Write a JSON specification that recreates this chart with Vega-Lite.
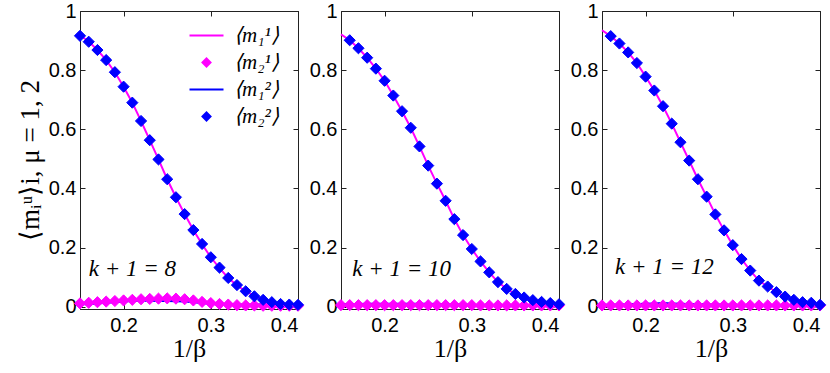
{
  "$schema": "https://vega.github.io/schema/vega-lite/v6.json",
  "padding": {"left": 15, "top": 0, "right": 0, "bottom": 2},
  "background": "white",
  "spacing": 43,
  "bounds": "flush",
  "datasets": {
    "curves": [
      {"p": 8, "x": 0.15, "m11": 0.918, "m21": 0.011, "m12": 0.007, "m22": 0.916},
      {"p": 8, "x": 0.16, "m11": 0.897, "m21": 0.013, "m12": 0.009, "m22": 0.896},
      {"p": 8, "x": 0.17, "m11": 0.868, "m21": 0.015, "m12": 0.011, "m22": 0.868},
      {"p": 8, "x": 0.18, "m11": 0.834, "m21": 0.017, "m12": 0.013, "m22": 0.834},
      {"p": 8, "x": 0.19, "m11": 0.793, "m21": 0.019, "m12": 0.015, "m22": 0.793},
      {"p": 8, "x": 0.20, "m11": 0.744, "m21": 0.021, "m12": 0.017, "m22": 0.744},
      {"p": 8, "x": 0.21, "m11": 0.690, "m21": 0.023, "m12": 0.019, "m22": 0.690},
      {"p": 8, "x": 0.22, "m11": 0.628, "m21": 0.025, "m12": 0.020, "m22": 0.628},
      {"p": 8, "x": 0.23, "m11": 0.563, "m21": 0.026, "m12": 0.020, "m22": 0.563},
      {"p": 8, "x": 0.24, "m11": 0.498, "m21": 0.027, "m12": 0.019, "m22": 0.498},
      {"p": 8, "x": 0.25, "m11": 0.431, "m21": 0.028, "m12": 0.019, "m22": 0.431},
      {"p": 8, "x": 0.26, "m11": 0.370, "m21": 0.027, "m12": 0.018, "m22": 0.370},
      {"p": 8, "x": 0.27, "m11": 0.313, "m21": 0.025, "m12": 0.017, "m22": 0.313},
      {"p": 8, "x": 0.28, "m11": 0.259, "m21": 0.021, "m12": 0.015, "m22": 0.259},
      {"p": 8, "x": 0.29, "m11": 0.211, "m21": 0.016, "m12": 0.012, "m22": 0.212},
      {"p": 8, "x": 0.30, "m11": 0.167, "m21": 0.012, "m12": 0.009, "m22": 0.167},
      {"p": 8, "x": 0.31, "m11": 0.130, "m21": 0.009, "m12": 0.008, "m22": 0.132},
      {"p": 8, "x": 0.32, "m11": 0.097, "m21": 0.007, "m12": 0.007, "m22": 0.097},
      {"p": 8, "x": 0.33, "m11": 0.072, "m21": 0.005, "m12": 0.007, "m22": 0.073},
      {"p": 8, "x": 0.34, "m11": 0.052, "m21": 0.004, "m12": 0.007, "m22": 0.052},
      {"p": 8, "x": 0.35, "m11": 0.036, "m21": 0.004, "m12": 0.007, "m22": 0.035},
      {"p": 8, "x": 0.36, "m11": 0.024, "m21": 0.003, "m12": 0.007, "m22": 0.023},
      {"p": 8, "x": 0.37, "m11": 0.016, "m21": 0.003, "m12": 0.007, "m22": 0.015},
      {"p": 8, "x": 0.38, "m11": 0.010, "m21": 0.003, "m12": 0.007, "m22": 0.009},
      {"p": 8, "x": 0.39, "m11": 0.007, "m21": 0.003, "m12": 0.007, "m22": 0.007},
      {"p": 8, "x": 0.40, "m11": 0.006, "m21": 0.003, "m12": 0.007, "m22": 0.006},

      {"p": 10, "x": 0.15, "m11": 0.921, "m21": 0.005, "m12": 0.008},
      {"p": 10, "x": 0.16, "m11": 0.901, "m21": 0.005, "m12": 0.009, "m22": 0.901},
      {"p": 10, "x": 0.17, "m11": 0.874, "m21": 0.005, "m12": 0.009, "m22": 0.874},
      {"p": 10, "x": 0.18, "m11": 0.842, "m21": 0.005, "m12": 0.010, "m22": 0.842},
      {"p": 10, "x": 0.19, "m11": 0.805, "m21": 0.005, "m12": 0.010, "m22": 0.805},
      {"p": 10, "x": 0.20, "m11": 0.764, "m21": 0.005, "m12": 0.010, "m22": 0.764},
      {"p": 10, "x": 0.21, "m11": 0.714, "m21": 0.005, "m12": 0.010, "m22": 0.714},
      {"p": 10, "x": 0.22, "m11": 0.661, "m21": 0.005, "m12": 0.010, "m22": 0.661},
      {"p": 10, "x": 0.23, "m11": 0.605, "m21": 0.005, "m12": 0.010, "m22": 0.605},
      {"p": 10, "x": 0.24, "m11": 0.542, "m21": 0.005, "m12": 0.010, "m22": 0.542},
      {"p": 10, "x": 0.25, "m11": 0.477, "m21": 0.005, "m12": 0.010, "m22": 0.477},
      {"p": 10, "x": 0.26, "m11": 0.416, "m21": 0.005, "m12": 0.009, "m22": 0.416},
      {"p": 10, "x": 0.27, "m11": 0.358, "m21": 0.005, "m12": 0.009, "m22": 0.358},
      {"p": 10, "x": 0.28, "m11": 0.296, "m21": 0.005, "m12": 0.008, "m22": 0.296},
      {"p": 10, "x": 0.29, "m11": 0.242, "m21": 0.005, "m12": 0.007, "m22": 0.242},
      {"p": 10, "x": 0.30, "m11": 0.195, "m21": 0.005, "m12": 0.006, "m22": 0.195},
      {"p": 10, "x": 0.31, "m11": 0.153, "m21": 0.004, "m12": 0.005, "m22": 0.153},
      {"p": 10, "x": 0.32, "m11": 0.116, "m21": 0.004, "m12": 0.005, "m22": 0.116},
      {"p": 10, "x": 0.33, "m11": 0.083, "m21": 0.004, "m12": 0.004, "m22": 0.083},
      {"p": 10, "x": 0.34, "m11": 0.060, "m21": 0.004, "m12": 0.004, "m22": 0.060},
      {"p": 10, "x": 0.35, "m11": 0.043, "m21": 0.004, "m12": 0.004, "m22": 0.043},
      {"p": 10, "x": 0.36, "m11": 0.031, "m21": 0.004, "m12": 0.004, "m22": 0.031},
      {"p": 10, "x": 0.37, "m11": 0.022, "m21": 0.004, "m12": 0.004, "m22": 0.022},
      {"p": 10, "x": 0.38, "m11": 0.016, "m21": 0.004, "m12": 0.004, "m22": 0.016},
      {"p": 10, "x": 0.39, "m11": 0.012, "m21": 0.004, "m12": 0.005, "m22": 0.012},
      {"p": 10, "x": 0.40, "m11": 0.008, "m21": 0.004, "m12": 0.005, "m22": 0.008},

      {"p": 12, "x": 0.15, "m11": 0.935, "m21": 0.004, "m12": 0.006},
      {"p": 12, "x": 0.16, "m11": 0.915, "m21": 0.004, "m12": 0.006, "m22": 0.915},
      {"p": 12, "x": 0.17, "m11": 0.890, "m21": 0.004, "m12": 0.007, "m22": 0.890},
      {"p": 12, "x": 0.18, "m11": 0.860, "m21": 0.004, "m12": 0.008, "m22": 0.860},
      {"p": 12, "x": 0.19, "m11": 0.824, "m21": 0.004, "m12": 0.009, "m22": 0.824},
      {"p": 12, "x": 0.20, "m11": 0.778, "m21": 0.004, "m12": 0.010, "m22": 0.778},
      {"p": 12, "x": 0.21, "m11": 0.731, "m21": 0.004, "m12": 0.011, "m22": 0.731},
      {"p": 12, "x": 0.22, "m11": 0.678, "m21": 0.004, "m12": 0.012, "m22": 0.678},
      {"p": 12, "x": 0.23, "m11": 0.619, "m21": 0.004, "m12": 0.011, "m22": 0.619},
      {"p": 12, "x": 0.24, "m11": 0.556, "m21": 0.004, "m12": 0.010, "m22": 0.556},
      {"p": 12, "x": 0.25, "m11": 0.494, "m21": 0.004, "m12": 0.009, "m22": 0.494},
      {"p": 12, "x": 0.26, "m11": 0.431, "m21": 0.004, "m12": 0.008, "m22": 0.431},
      {"p": 12, "x": 0.27, "m11": 0.372, "m21": 0.004, "m12": 0.008, "m22": 0.372},
      {"p": 12, "x": 0.28, "m11": 0.312, "m21": 0.004, "m12": 0.007, "m22": 0.312},
      {"p": 12, "x": 0.29, "m11": 0.258, "m21": 0.004, "m12": 0.007, "m22": 0.258},
      {"p": 12, "x": 0.30, "m11": 0.208, "m21": 0.004, "m12": 0.006, "m22": 0.208},
      {"p": 12, "x": 0.31, "m11": 0.161, "m21": 0.004, "m12": 0.005, "m22": 0.161},
      {"p": 12, "x": 0.32, "m11": 0.122, "m21": 0.004, "m12": 0.004, "m22": 0.122},
      {"p": 12, "x": 0.33, "m11": 0.088, "m21": 0.004, "m12": 0.003, "m22": 0.088},
      {"p": 12, "x": 0.34, "m11": 0.068, "m21": 0.004, "m12": 0.003, "m22": 0.068},
      {"p": 12, "x": 0.35, "m11": 0.049, "m21": 0.004, "m12": 0.003, "m22": 0.049},
      {"p": 12, "x": 0.36, "m11": 0.034, "m21": 0.004, "m12": 0.003, "m22": 0.034},
      {"p": 12, "x": 0.37, "m11": 0.023, "m21": 0.004, "m12": 0.003, "m22": 0.023},
      {"p": 12, "x": 0.38, "m11": 0.016, "m21": 0.004, "m12": 0.004, "m22": 0.015},
      {"p": 12, "x": 0.39, "m11": 0.012, "m21": 0.004, "m12": 0.004, "m22": 0.013},
      {"p": 12, "x": 0.40, "m11": 0.006, "m21": 0.004, "m12": 0.005, "m22": 0.006}
    ],
    "labels": [
      {"p": 8, "x": 0.160, "y": 0.127, "label": "k + 1 = 8"},
      {"p": 10, "x": 0.163, "y": 0.127, "label": "k + 1 = 10"},
      {"p": 12, "x": 0.165, "y": 0.134, "label": "k + 1 = 12"}
    ]
  },
  "hconcat": [
    {
      "width": 218, "height": 298,
      "layer": [
        {
          "data": {"name": "curves"},
          "transform": [{"filter": "datum.p == 8"}, {"fold": ["m11", "m12"], "as": ["series", "val"]}, {"filter": "isValid(datum.val)"}],
          "mark": {"type": "line", "strokeWidth": 2},
          "encoding": {
            "x": {"field": "x", "type": "quantitative", "scale": {"domain": [0.15, 0.4], "nice": false, "zero": false}, "axis": {"values": [0.2, 0.3, 0.4], "format": "~g", "title": "1/β"}},
            "y": {"field": "val", "type": "quantitative", "scale": {"domain": [-0.008, 1], "nice": false, "zero": false}, "axis": {"values": [0, 0.2, 0.4, 0.6, 0.8, 1], "format": "~g", "title": "⟨mᵢᵘ⟩i, μ = 1, 2"}},
            "color": {"field": "series", "type": "nominal", "scale": {"domain": ["m11", "m12"], "range": ["#ff00ff", "#0000ff"]}, "legend": null}
          }
        },
        {
          "data": {"name": "curves"},
          "transform": [{"filter": "datum.p == 8"}, {"fold": ["m21", "m22"], "as": ["series", "val"]}, {"filter": "isValid(datum.val)"}],
          "mark": {"type": "point", "filled": true, "size": 125, "strokeWidth": 1, "opacity": 1},
          "encoding": {
            "x": {"field": "x", "type": "quantitative", "axis": null},
            "y": {"field": "val", "type": "quantitative", "axis": null},
            "fill": {"field": "series", "type": "nominal", "scale": {"domain": ["m11", "m21", "m12", "m22"], "range": ["#ff00ff", "#ff00ff", "#0000ff", "#0000ff"]}, "legend": {"orient": "none", "legendX": 116, "legendY": 14, "title": null, "labelExpr": "datum.label == 'm11' ? '⟨m₁¹⟩' : datum.label == 'm21' ? '⟨m₂¹⟩' : datum.label == 'm12' ? '⟨m₁²⟩' : '⟨m₂²⟩'"}},
            "stroke": {"field": "series", "type": "nominal", "scale": {"domain": ["m11", "m21", "m12", "m22"], "range": ["#ff00ff", "#ff00ff", "#0000ff", "#0000ff"]}, "legend": {"orient": "none", "legendX": 116, "legendY": 14, "title": null, "labelExpr": "datum.label == 'm11' ? '⟨m₁¹⟩' : datum.label == 'm21' ? '⟨m₂¹⟩' : datum.label == 'm12' ? '⟨m₁²⟩' : '⟨m₂²⟩'"}},
            "shape": {"field": "series", "type": "nominal", "scale": {"domain": ["m11", "m21", "m12", "m22"], "range": ["M-4.25,0L4.25,0", "diamond", "M-4.25,0L4.25,0", "diamond"]}, "legend": {"orient": "none", "legendX": 116, "legendY": 14, "title": null, "labelExpr": "datum.label == 'm11' ? '⟨m₁¹⟩' : datum.label == 'm21' ? '⟨m₂¹⟩' : datum.label == 'm12' ? '⟨m₁²⟩' : '⟨m₂²⟩'"}}
          }
        },
        {
          "data": {"name": "labels"},
          "transform": [{"filter": "datum.p == 8"}],
          "mark": {"type": "text", "align": "left", "baseline": "middle", "font": "Liberation Serif", "fontSize": 23, "fontStyle": "italic"},
          "encoding": {
            "x": {"field": "x", "type": "quantitative", "axis": {"orient": "top", "values": [0.2, 0.3, 0.4], "labels": false, "title": null}},
            "y": {"field": "y", "type": "quantitative", "axis": {"orient": "right", "values": [0, 0.2, 0.4, 0.6, 0.8, 1], "labels": false, "title": null}},
            "text": {"field": "label"}
          }
        }
      ],
      "resolve": {"axis": {"x": "independent", "y": "independent"}}
    },
    {
      "width": 218, "height": 298,
      "layer": [
        {
          "data": {"name": "curves"},
          "transform": [{"filter": "datum.p == 10"}, {"fold": ["m11", "m12"], "as": ["series", "val"]}, {"filter": "isValid(datum.val)"}],
          "mark": {"type": "line", "strokeWidth": 2},
          "encoding": {
            "x": {"field": "x", "type": "quantitative", "scale": {"domain": [0.15, 0.4], "nice": false, "zero": false}, "axis": {"values": [0.2, 0.3, 0.4], "format": "~g", "title": "1/β"}},
            "y": {"field": "val", "type": "quantitative", "scale": {"domain": [-0.008, 1], "nice": false, "zero": false}, "axis": {"values": [0, 0.2, 0.4, 0.6, 0.8, 1], "format": "~g", "title": null}},
            "color": {"field": "series", "type": "nominal", "scale": {"domain": ["m11", "m12"], "range": ["#ff00ff", "#0000ff"]}, "legend": null}
          }
        },
        {
          "data": {"name": "curves"},
          "transform": [{"filter": "datum.p == 10"}, {"fold": ["m21", "m22"], "as": ["series", "val"]}, {"filter": "isValid(datum.val)"}],
          "mark": {"type": "point", "filled": true, "size": 125, "strokeWidth": 1, "opacity": 1},
          "encoding": {
            "x": {"field": "x", "type": "quantitative", "axis": null},
            "y": {"field": "val", "type": "quantitative", "axis": null},
            "fill": {"field": "series", "type": "nominal", "scale": {"domain": ["m11", "m21", "m12", "m22"], "range": ["#ff00ff", "#ff00ff", "#0000ff", "#0000ff"]}, "legend": null},
            "stroke": {"field": "series", "type": "nominal", "scale": {"domain": ["m11", "m21", "m12", "m22"], "range": ["#ff00ff", "#ff00ff", "#0000ff", "#0000ff"]}, "legend": null},
            "shape": {"field": "series", "type": "nominal", "scale": {"domain": ["m11", "m21", "m12", "m22"], "range": ["M-4.25,0L4.25,0", "diamond", "M-4.25,0L4.25,0", "diamond"]}, "legend": null}
          }
        },
        {
          "data": {"name": "labels"},
          "transform": [{"filter": "datum.p == 10"}],
          "mark": {"type": "text", "align": "left", "baseline": "middle", "font": "Liberation Serif", "fontSize": 23, "fontStyle": "italic"},
          "encoding": {
            "x": {"field": "x", "type": "quantitative", "axis": {"orient": "top", "values": [0.2, 0.3, 0.4], "labels": false, "title": null}},
            "y": {"field": "y", "type": "quantitative", "axis": {"orient": "right", "values": [0, 0.2, 0.4, 0.6, 0.8, 1], "labels": false, "title": null}},
            "text": {"field": "label"}
          }
        }
      ],
      "resolve": {"axis": {"x": "independent", "y": "independent"}}
    },
    {
      "width": 218, "height": 298,
      "layer": [
        {
          "data": {"name": "curves"},
          "transform": [{"filter": "datum.p == 12"}, {"fold": ["m11", "m12"], "as": ["series", "val"]}, {"filter": "isValid(datum.val)"}],
          "mark": {"type": "line", "strokeWidth": 2},
          "encoding": {
            "x": {"field": "x", "type": "quantitative", "scale": {"domain": [0.15, 0.4], "nice": false, "zero": false}, "axis": {"values": [0.2, 0.3, 0.4], "format": "~g", "title": "1/β"}},
            "y": {"field": "val", "type": "quantitative", "scale": {"domain": [-0.008, 1], "nice": false, "zero": false}, "axis": {"values": [0, 0.2, 0.4, 0.6, 0.8, 1], "format": "~g", "title": null}},
            "color": {"field": "series", "type": "nominal", "scale": {"domain": ["m11", "m12"], "range": ["#ff00ff", "#0000ff"]}, "legend": null}
          }
        },
        {
          "data": {"name": "curves"},
          "transform": [{"filter": "datum.p == 12"}, {"fold": ["m21", "m22"], "as": ["series", "val"]}, {"filter": "isValid(datum.val)"}],
          "mark": {"type": "point", "filled": true, "size": 125, "strokeWidth": 1, "opacity": 1},
          "encoding": {
            "x": {"field": "x", "type": "quantitative", "axis": null},
            "y": {"field": "val", "type": "quantitative", "axis": null},
            "fill": {"field": "series", "type": "nominal", "scale": {"domain": ["m11", "m21", "m12", "m22"], "range": ["#ff00ff", "#ff00ff", "#0000ff", "#0000ff"]}, "legend": null},
            "stroke": {"field": "series", "type": "nominal", "scale": {"domain": ["m11", "m21", "m12", "m22"], "range": ["#ff00ff", "#ff00ff", "#0000ff", "#0000ff"]}, "legend": null},
            "shape": {"field": "series", "type": "nominal", "scale": {"domain": ["m11", "m21", "m12", "m22"], "range": ["M-4.25,0L4.25,0", "diamond", "M-4.25,0L4.25,0", "diamond"]}, "legend": null}
          }
        },
        {
          "data": {"name": "labels"},
          "transform": [{"filter": "datum.p == 12"}],
          "mark": {"type": "text", "align": "left", "baseline": "middle", "font": "Liberation Serif", "fontSize": 23, "fontStyle": "italic"},
          "encoding": {
            "x": {"field": "x", "type": "quantitative", "axis": {"orient": "top", "values": [0.2, 0.3, 0.4], "labels": false, "title": null}},
            "y": {"field": "y", "type": "quantitative", "axis": {"orient": "right", "values": [0, 0.2, 0.4, 0.6, 0.8, 1], "labels": false, "title": null}},
            "text": {"field": "label"}
          }
        }
      ],
      "resolve": {"axis": {"x": "independent", "y": "independent"}}
    }
  ],
  "config": {
    "view": {"stroke": "#444", "strokeWidth": 1},
    "axis": {
      "grid": false,
      "domain": true,
      "domainColor": "#222",
      "tickColor": "#222",
      "tickSize": -5,
      "labelFont": "Liberation Sans",
      "labelFontSize": 20,
      "labelColor": "black",
      "titleFont": "Liberation Serif",
      "titleFontWeight": "normal",
      "titleFontSize": 26,
      "titleColor": "black"
    },
    "axisX": {"titlePadding": 0, "labelPadding": 11},
    "axisY": {"titlePadding": 4, "titleFontSize": 27, "labelPadding": 9},
    "legend": {
      "labelFont": "Liberation Serif",
      "labelFontSize": 21,
      "labelFontStyle": "italic",
      "labelColor": "black",
      "labelOffset": 17,
      "rowPadding": 5,
      "symbolSize": 64,
      "symbolStrokeWidth": 2
    }
  }
}
